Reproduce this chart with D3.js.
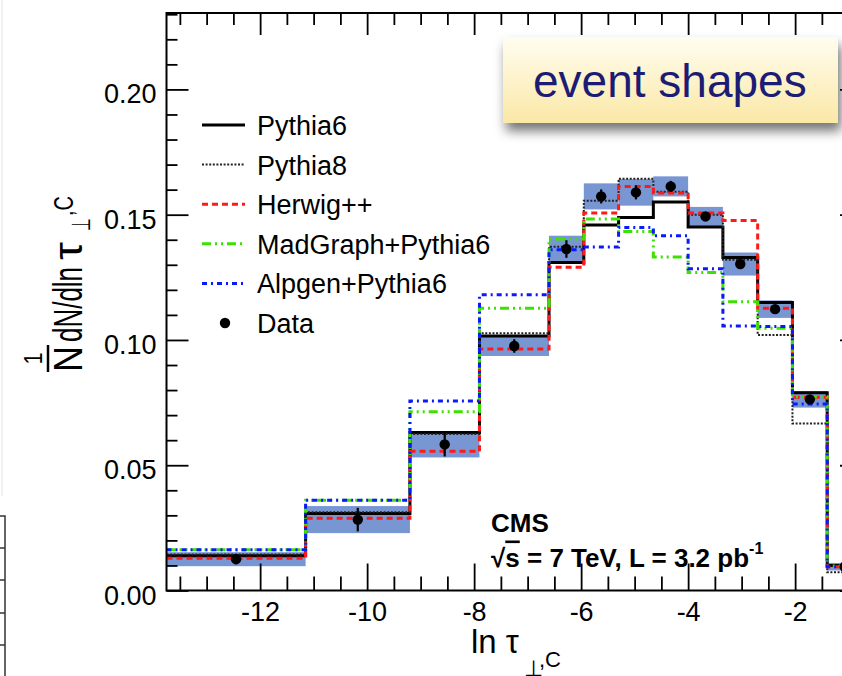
<!DOCTYPE html>
<html>
<head>
<meta charset="utf-8">
<title>event shapes</title>
<style type="text/css">
	body { margin: 0; background: white; }
	svg { display: block; font-family: "Liberation Sans", Arial, sans-serif; }
	.tick text { fill: black; }
</style>
</head>
<body>
<svg id="chart" width="842" height="676"></svg>

<script src="https://cdn.jsdelivr.net/npm/d3@7"></script>
<script type="text/javascript">
	// bin edges in ln tau
	var binEdges = [-13.75, -11.15, -9.2, -7.9, -6.6, -5.95, -5.3, -4.65, -4.0, -3.35, -2.7, -2.05, -1.4, -0.75];

	var pythia6  = [0.0139, 0.0307, 0.0631, 0.1016, 0.1309, 0.1459, 0.1489, 0.1551, 0.1451, 0.1329, 0.1150, 0.0789, 0.0100];
	var pythia8  = [0.0144, 0.0312, 0.0625, 0.1027, 0.1372, 0.1556, 0.1643, 0.1592, 0.1500, 0.1320, 0.1020, 0.0667, 0.0073];
	var herwig   = [0.0129, 0.0288, 0.0556, 0.0964, 0.1290, 0.1507, 0.1613, 0.1587, 0.1507, 0.1477, 0.1127, 0.0771, 0.0095];
	var madgraph = [0.0163, 0.0360, 0.0713, 0.1127, 0.1403, 0.1483, 0.1433, 0.1331, 0.1269, 0.1153, 0.1047, 0.0773, 0.0098];
	var alpgen   = [0.0163, 0.0360, 0.0756, 0.1180, 0.1360, 0.1371, 0.1449, 0.1416, 0.1284, 0.1056, 0.1054, 0.0744, 0.0095];

	var dataVals = [0.0125, 0.0283, 0.0583, 0.0976, 0.1363, 0.1573, 0.1589, 0.1613, 0.1493, 0.1303, 0.1123, 0.0763, 0.0095];
	var dataErr  = [0.0020, 0.0047, 0.0048, 0.0027, 0.0035, 0.0028, 0.0028, 0.0022, 0.0018, 0.0018, 0.0016, 0.0015, 0.0010];
	var bandErr  = [0.0028, 0.0054, 0.0052, 0.0040, 0.0053, 0.0052, 0.0053, 0.0040, 0.0038, 0.0046, 0.0035, 0.0033, 0.0015];

	var legendLabels = ["Pythia6", "Pythia8", "Herwig++", "MadGraph+Pythia6", "Alpgen+Pythia6", "Data"];
	var xTicks = [-12, -10, -8, -6, -4, -2];
	var yTicks = [0, 0.05, 0.10, 0.15, 0.20];

	var series = [
		{name: "Pythia6",  vals: pythia6,  color: "#000",    width: 3,   dash: null},
		{name: "Pythia8",  vals: pythia8,  color: "#222",    width: 2,   dash: "2,1.6"},
		{name: "Herwig++", vals: herwig,   color: "#ff1a1a", width: 3,   dash: "6,4"},
		{name: "MadGraph+Pythia6", vals: madgraph, color: "#3de000", width: 3, dash: "9,4,2,4,2,4"},
		{name: "Alpgen+Pythia6",   vals: alpgen,   color: "#0a1aff", width: 3, dash: "5,4,2,4"}
	];

	var plotL = 166.5, plotR = 862, plotT = 13, plotB = 590.5;

	var svg = d3.select("#chart");

	var x = d3.scaleLinear().domain([-13.75, -0.75]).range([plotL, plotR]);
	var y = d3.scaleLinear().domain([0, 0.2305]).range([plotB, plotT]);

	// fragment of the neighbouring plot on the left
	svg.append("line").attr("x1", 2).attr("x2", 2).attr("y1", 0).attr("y2", 496)
		.attr("stroke", "#ececec").attr("stroke-width", 1.5);
	var frag = svg.append("g").attr("stroke", "#333").attr("stroke-width", 1.5);
	frag.append("path").attr("d", "M0,516 H5 V676").attr("fill", "none");
	[548, 580, 613, 645].forEach(function(t) {
		frag.append("line").attr("x1", 0).attr("x2", 5).attr("y1", t).attr("y2", t);
	});

	// uncertainty band around data
	svg.append("g").selectAll("rect")
		.data(dataVals)
		.enter().append("rect")
		.attr("x", (d, i) => x(binEdges[i]))
		.attr("width", (d, i) => x(binEdges[i + 1]) - x(binEdges[i]))
		.attr("y", (d, i) => y(d + bandErr[i]))
		.attr("height", (d, i) => y(d - bandErr[i]) - y(d + bandErr[i]))
		.attr("fill", "#7896d2");

	// MC histograms as steps
	var step = d3.line()
		.x(d => x(d[0]))
		.y(d => y(d[1]))
		.curve(d3.curveStepAfter);

	series.forEach(function(s) {
		var pts = binEdges.map((e, i) => [e, s.vals[Math.min(i, s.vals.length - 1)]]);
		svg.append("path")
			.attr("d", step(pts))
			.attr("fill", "none")
			.attr("stroke", s.color)
			.attr("stroke-width", s.width)
			.attr("stroke-dasharray", s.dash);
	});

	// data points
	var centers = dataVals.map((d, i) => (binEdges[i] + binEdges[i + 1]) / 2);
	svg.append("g").selectAll("line")
		.data(dataVals)
		.enter().append("line")
		.attr("x1", (d, i) => x(centers[i]))
		.attr("x2", (d, i) => x(centers[i]))
		.attr("y1", (d, i) => y(d - dataErr[i]))
		.attr("y2", (d, i) => y(d + dataErr[i]))
		.attr("stroke", "#000").attr("stroke-width", 2.2);
	svg.append("g").selectAll("circle")
		.data(dataVals)
		.enter().append("circle")
		.attr("cx", (d, i) => x(centers[i]))
		.attr("cy", d => y(d))
		.attr("r", 5.2)
		.attr("fill", "#000");

	// frame
	svg.append("rect")
		.attr("x", plotL).attr("y", plotT)
		.attr("width", plotR - plotL).attr("height", plotB - plotT)
		.attr("fill", "none").attr("stroke", "#000").attr("stroke-width", 2);

	var xMinor = d3.range(-13.5, -0.75, 0.5).filter(v => xTicks.indexOf(v) < 0);
	var yMinor = d3.range(1, 24).map(v => v / 100).filter(v => Math.round(v * 100) % 5 != 0);

	function tidy(g) {
		g.select(".domain").remove();
		g.selectAll(".tick line").attr("stroke", "#000").attr("stroke-width", 1.8);
		g.attr("font-family", null).attr("font-size", 27);
	}

	// bottom
	svg.append("g").attr("transform", `translate(0,${plotB})`)
		.call(d3.axisBottom(x).tickValues(xTicks).tickSize(-27).tickPadding(11).tickFormat(d => String(d)))
		.call(tidy);
	svg.append("g").attr("transform", `translate(0,${plotB})`)
		.call(d3.axisBottom(x).tickValues(xMinor).tickSize(-14).tickFormat(""))
		.call(tidy);
	// top
	svg.append("g").attr("transform", `translate(0,${plotT})`)
		.call(d3.axisTop(x).tickValues(xTicks).tickSize(-22).tickFormat(""))
		.call(tidy);
	svg.append("g").attr("transform", `translate(0,${plotT})`)
		.call(d3.axisTop(x).tickValues(xMinor).tickSize(-12).tickFormat(""))
		.call(tidy);
	// left
	svg.append("g").attr("transform", `translate(${plotL},0)`)
		.call(d3.axisLeft(y).tickValues(yTicks).tickSize(-22).tickPadding(10).tickFormat(d3.format(".2f")))
		.call(tidy)
		.selectAll(".tick text").attr("dy", "0.5em");
	svg.append("g").attr("transform", `translate(${plotL},0)`)
		.call(d3.axisLeft(y).tickValues(yMinor).tickSize(-11).tickFormat(""))
		.call(tidy);
	// right
	svg.append("g").attr("transform", `translate(${plotR},0)`)
		.call(d3.axisRight(y).tickValues(yTicks).tickSize(-22).tickFormat(""))
		.call(tidy);
	svg.append("g").attr("transform", `translate(${plotR},0)`)
		.call(d3.axisRight(y).tickValues(yMinor).tickSize(-11).tickFormat(""))
		.call(tidy);

	// legend
	var legend = svg.append("g");
	var legY = 125, legStep = 39.6;
	series.forEach(function(s, i) {
		legend.append("line")
			.attr("x1", 202).attr("x2", 245)
			.attr("y1", legY + i * legStep).attr("y2", legY + i * legStep)
			.attr("stroke", s.color).attr("stroke-width", s.width)
			.attr("stroke-dasharray", s.dash);
	});
	legend.append("circle").attr("cx", 225).attr("cy", legY + 5 * legStep).attr("r", 5.2).attr("fill", "#000");
	legend.selectAll("text")
		.data(legendLabels)
		.enter().append("text")
		.attr("x", 257)
		.attr("y", (d, i) => legY + i * legStep + 10)
		.attr("font-size", 27)
		.text(d => d);

	// CMS label
	svg.append("text").attr("x", 491).attr("y", 531.5)
		.attr("font-size", 26).attr("font-weight", "bold").text("CMS");
	var lumi = svg.append("text").attr("x", 491).attr("y", 566.5)
		.attr("font-size", 26).attr("font-weight", "bold");
	lumi.append("tspan").text("√");
	lumi.append("tspan").style("text-decoration", "overline").text("s");
	lumi.append("tspan").text(" = 7 TeV, L = 3.2 pb");
	lumi.append("tspan").attr("font-size", 16).attr("dy", -13).text("-1");

	// x axis title
	var xt = svg.append("g");
	xt.append("text").attr("x", 471).attr("y", 653).attr("font-size", 33).text("ln τ");
	xt.append("text").attr("x", 524).attr("y", 676).attr("font-size", 22).text("⊥");
	xt.append("text").attr("x", 539).attr("y", 667).attr("font-size", 22).text(",C");

	// y axis title (rotated, tall glyphs)
	var yt = svg.append("g").attr("transform", "translate(82,372) rotate(-90)");
	yt.append("text").attr("x", 0).attr("y", 0).attr("font-size", 40)
		.attr("textLength", 26).attr("lengthAdjust", "spacingAndGlyphs").text("N");
	yt.append("line").attr("x1", 0).attr("x2", 27).attr("y1", -34).attr("y2", -34)
		.attr("stroke", "#000").attr("stroke-width", 2.5);
	yt.append("text").attr("x", 13.5).attr("y", -40).attr("font-size", 26)
		.attr("text-anchor", "middle").attr("textLength", 12).attr("lengthAdjust", "spacingAndGlyphs").text("1");
	yt.append("text").attr("x", 30).attr("y", 0).attr("font-size", 40)
		.attr("textLength", 75).attr("lengthAdjust", "spacingAndGlyphs").text("dN/dln");
	yt.append("text").attr("x", 112).attr("y", 0).attr("font-size", 40)
		.attr("textLength", 18).attr("lengthAdjust", "spacingAndGlyphs").text("τ");
	yt.append("text").attr("x", 141).attr("y", 8).attr("font-size", 26)
		.attr("textLength", 13).attr("lengthAdjust", "spacingAndGlyphs").text("⊥");
	yt.append("text").attr("x", 156).attr("y", -9).attr("font-size", 28)
		.attr("textLength", 20).attr("lengthAdjust", "spacingAndGlyphs").text(",C");

	// "event shapes" box
	var defs = svg.append("defs");
	var grad = defs.append("linearGradient").attr("id", "boxGrad")
		.attr("x1", 0).attr("y1", 0).attr("x2", 0).attr("y2", 1);
	grad.append("stop").attr("offset", "0%").attr("stop-color", "#fffdf0");
	grad.append("stop").attr("offset", "100%").attr("stop-color", "#fbe8a6");
	var shadow = defs.append("filter").attr("id", "shadow")
		.attr("x", "-10%").attr("y", "-20%").attr("width", "130%").attr("height", "160%");
	shadow.append("feDropShadow").attr("dx", 3).attr("dy", 8).attr("stdDeviation", 6)
		.attr("flood-color", "#000").attr("flood-opacity", 0.55);

	svg.append("rect").attr("x", 503).attr("y", 37).attr("width", 335).attr("height", 86)
		.attr("fill", "url(#boxGrad)").attr("filter", "url(#shadow)");
	svg.append("text").attr("x", 533).attr("y", 97).attr("font-size", 46)
		.attr("fill", "#1c1c74").text("event shapes");
</script>
</body>
</html>
